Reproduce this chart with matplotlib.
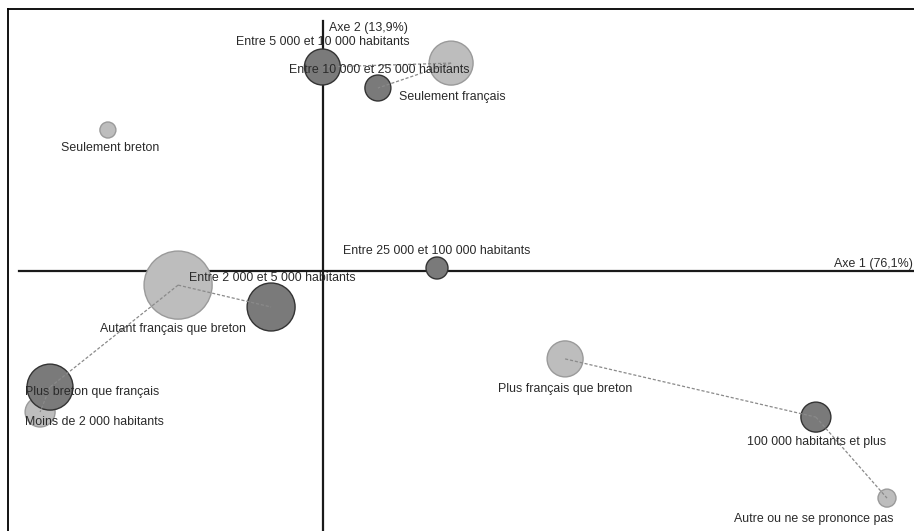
import matplotlib
matplotlib.use("Agg")
import matplotlib.pyplot as plt
from matplotlib.lines import Line2D

plt.rcParams['font.family'] = ['Liberation Sans', 'DejaVu Sans']

# --- Data: correspondence analysis coordinates (axis 1, axis 2) and masses ---
identity_names = ["Seulement breton", "Plus breton que français", "Autant français que breton",
                  "Plus français que breton", "Seulement français", "Autre ou ne se prononce pas"]
identity_x = [-0.717, -0.943, -0.483, 0.807, 0.427, 1.880]
identity_y = [0.470, -0.470, -0.047, -0.293, 0.693, -0.757]
identity_mass = [0.64, 2.25, 11.6, 3.24, 4.84, 0.81]

town_names = ["Moins de 2 000 habitants", "Entre 2 000 et 5 000 habitants",
              "Entre 5 000 et 10 000 habitants", "Entre 10 000 et 25 000 habitants",
              "Entre 25 000 et 100 000 habitants", "100 000 habitants et plus"]
town_x = [-0.910, -0.173, -0.002, 0.183, 0.380, 1.643]
town_y = [-0.387, -0.120, 0.680, 0.610, 0.010, -0.487]
town_mass = [5.29, 5.76, 3.24, 1.69, 1.21, 2.25]

links = [("Autant français que breton", "Entre 2 000 et 5 000 habitants"),
         ("Autant français que breton", "Moins de 2 000 habitants"),
         ("Moins de 2 000 habitants", "Plus breton que français"),
         ("Seulement français", "Entre 10 000 et 25 000 habitants"),
         ("Seulement français", "Entre 5 000 et 10 000 habitants"),
         ("Plus français que breton", "100 000 habitants et plus"),
         ("100 000 habitants et plus", "Autre ou ne se prononce pas")]

axis1_label = "Axe 1 (76,1%)"
axis2_label = "Axe 2 (13,9%)"

# --- Label placement (offsets in pixels, alignment) ---
label_style = {
    "Seulement breton": (2, -18, "center"),
    "Plus breton que français": (-15, 20, "left"),
    "Autant français que breton": (-5, -44, "center"),
    "Plus français que breton": (0, -30, "center"),
    "Seulement français": (1, -34, "center"),
    "Autre ou ne se prononce pas": (6, -21, "right"),
    "Moins de 2 000 habitants": (-25, -35, "left"),
    "Entre 2 000 et 5 000 habitants": (1, 29, "center"),
    "Entre 5 000 et 10 000 habitants": (0, 25, "center"),
    "Entre 10 000 et 25 000 habitants": (1, 18, "center"),
    "Entre 25 000 et 100 000 habitants": (0, 17, "center"),
    "100 000 habitants et plus": (1, -25, "center"),
}

FS = 8.9
W, H = 914, 531
fig = plt.figure(figsize=(W / 100, H / 100), dpi=100)
ax = fig.add_axes([0, 0, 1, 1])
scale = 300.0
ox, oy = 323, 271
ax.set_xlim((0 - ox) / scale, (W - ox) / scale)
ax.set_ylim((oy - H) / scale, (oy - 0) / scale)
ax.axis("off")

def px2x(px):
    return (px - ox) / scale

def py2y(py):
    return (oy - py) / scale

# frame (left and top)
fig.add_artist(Line2D([8 / W, 8 / W], [0, 1 - 9 / H], color="black", lw=1.3, transform=fig.transFigure))
fig.add_artist(Line2D([8 / W, 1], [1 - 9 / H, 1 - 9 / H], color="black", lw=1.3, transform=fig.transFigure))

# axes lines
ax.plot([px2x(19), px2x(W)], [0, 0], color="#1a1a1a", lw=1.6, zorder=1)
ax.plot([0, 0], [py2y(H), py2y(21)], color="#1a1a1a", lw=1.6, zorder=1)

ax.text(px2x(329), py2y(28), axis2_label, fontsize=FS, color="#2a2a2a", ha="left", va="center")
ax.text(px2x(913), py2y(264), axis1_label, fontsize=FS, color="#2a2a2a", ha="right", va="center")

k = 207.0  # mass -> marker area
ax.scatter(identity_x, identity_y, s=[m * k for m in identity_mass], color="#bdbdbd",
           edgecolors="#9a9a9a", linewidths=1.0, zorder=2)
ax.scatter(town_x, town_y, s=[m * k for m in town_mass], color="#7a7a7a",
           edgecolors="#333333", linewidths=1.0, zorder=3)

coords = {}
for n, x, y in zip(identity_names, identity_x, identity_y):
    coords[n] = (x, y)
for n, x, y in zip(town_names, town_x, town_y):
    coords[n] = (x, y)

for a, b in links:
    (x1, y1), (x2, y2) = coords[a], coords[b]
    ax.plot([x1, x2], [y1, y2], color="#8a8a8a", lw=0.9, ls=(0, (2.5, 1.5)), zorder=4)

for n, (x, y) in coords.items():
    dx, dy, ha = label_style[n]
    ax.annotate(n, (x, y), xytext=(dx, dy), textcoords="offset pixels", ha=ha, va="center",
                fontsize=FS, color="#2a2a2a", zorder=5)

fig.savefig("out.png", dpi=100, facecolor="white")
